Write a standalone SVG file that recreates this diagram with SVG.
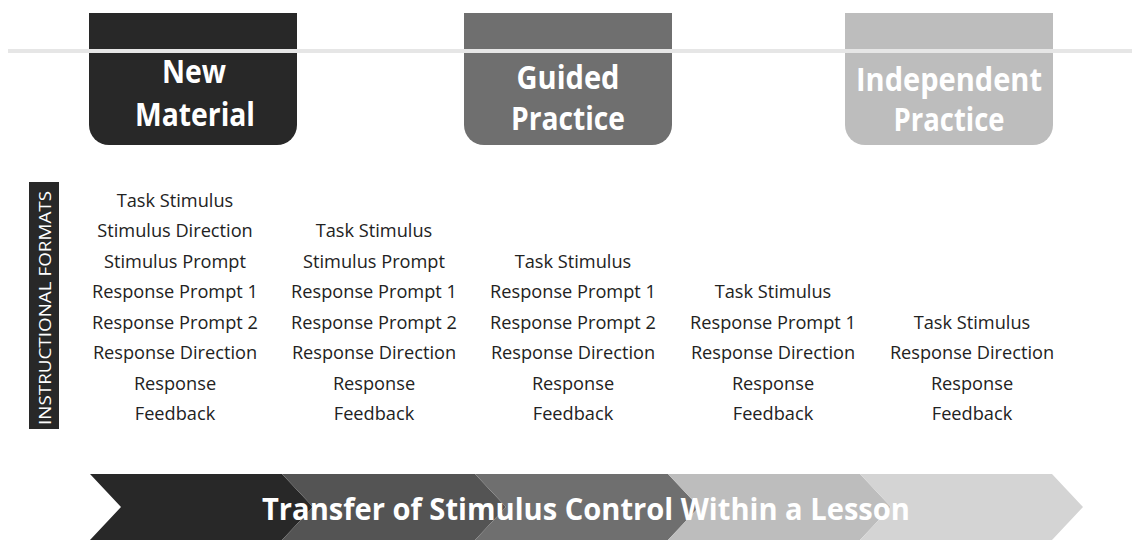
<svg xmlns="http://www.w3.org/2000/svg" width="1132" height="540" viewBox="0 0 1132 540">
  <style>
    .hdr { font-family: "Open Sans", "Liberation Sans", sans-serif; font-weight: 700; font-size: 32px; fill: #ffffff; text-anchor: middle; }
    .item { font-family: "Open Sans", "Liberation Sans", sans-serif; font-size: 18.2px; fill: #222222; text-anchor: middle; }
    .side { font-family: "Open Sans", "Liberation Sans", sans-serif; font-size: 17px; fill: #ffffff; text-anchor: middle; }
    .band { font-family: "Open Sans", "Liberation Sans", sans-serif; font-weight: 700; font-size: 30.5px; fill: #ffffff; text-anchor: middle; }
  </style>

  <rect width="1132" height="540" fill="#ffffff"/>

  <!-- phase tabs -->
  <g id="tab-new-material">
    <path d="M89 13 H297 V125 A20 20 0 0 1 277 145 H109 A20 20 0 0 1 89 125 Z" fill="#282828"/>
  </g>
  <g id="tab-guided-practice">
    <path d="M464 13 H672 V125 A20 20 0 0 1 652 145 H484 A20 20 0 0 1 464 125 Z" fill="#6f6f6f"/>
  </g>
  <g id="tab-independent-practice">
    <path d="M845 13 H1053 V125 A20 20 0 0 1 1033 145 H865 A20 20 0 0 1 845 125 Z" fill="#bdbdbd"/>
  </g>

  <!-- timeline rule across the tabs -->
  <g id="connectors">
    <rect x="8" y="49" width="1124" height="4" fill="#e6e6e6"/>
  </g>

  <g id="tab-labels">
    <text class="hdr" x="194" y="83" textLength="64" lengthAdjust="spacingAndGlyphs">New</text>
    <text class="hdr" x="195" y="126" textLength="120" lengthAdjust="spacingAndGlyphs">Material</text>
    <text class="hdr" x="568" y="89" textLength="103" lengthAdjust="spacingAndGlyphs">Guided</text>
    <text class="hdr" x="568" y="130" textLength="114" lengthAdjust="spacingAndGlyphs">Practice</text>
    <text class="hdr" x="949" y="91" textLength="186" lengthAdjust="spacingAndGlyphs">Independent</text>
    <text class="hdr" x="949" y="131" textLength="111" lengthAdjust="spacingAndGlyphs">Practice</text>
  </g>

  <!-- side label -->
  <g id="side-label">
    <rect x="29" y="182" width="30" height="247" fill="#282828"/>
    <text class="side" transform="translate(51 308) rotate(-90)" x="0" y="0" textLength="234" lengthAdjust="spacingAndGlyphs">INSTRUCTIONAL FORMATS</text>
  </g>

  <!-- instructional format columns -->
  <g id="format-1">
    <text class="item" x="175" y="207">Task Stimulus</text>
    <text class="item" x="175" y="237">Stimulus Direction</text>
    <text class="item" x="175" y="268">Stimulus Prompt</text>
    <text class="item" x="175" y="298">Response Prompt 1</text>
    <text class="item" x="175" y="329">Response Prompt 2</text>
    <text class="item" x="175" y="359">Response Direction</text>
    <text class="item" x="175" y="390">Response</text>
    <text class="item" x="175" y="420">Feedback</text>
  </g>
  <g id="format-2">
    <text class="item" x="374" y="237">Task Stimulus</text>
    <text class="item" x="374" y="268">Stimulus Prompt</text>
    <text class="item" x="374" y="298">Response Prompt 1</text>
    <text class="item" x="374" y="329">Response Prompt 2</text>
    <text class="item" x="374" y="359">Response Direction</text>
    <text class="item" x="374" y="390">Response</text>
    <text class="item" x="374" y="420">Feedback</text>
  </g>
  <g id="format-3">
    <text class="item" x="573" y="268">Task Stimulus</text>
    <text class="item" x="573" y="298">Response Prompt 1</text>
    <text class="item" x="573" y="329">Response Prompt 2</text>
    <text class="item" x="573" y="359">Response Direction</text>
    <text class="item" x="573" y="390">Response</text>
    <text class="item" x="573" y="420">Feedback</text>
  </g>
  <g id="format-4">
    <text class="item" x="773" y="298">Task Stimulus</text>
    <text class="item" x="773" y="329">Response Prompt 1</text>
    <text class="item" x="773" y="359">Response Direction</text>
    <text class="item" x="773" y="390">Response</text>
    <text class="item" x="773" y="420">Feedback</text>
  </g>
  <g id="format-5">
    <text class="item" x="972" y="329">Task Stimulus</text>
    <text class="item" x="972" y="359">Response Direction</text>
    <text class="item" x="972" y="390">Response</text>
    <text class="item" x="972" y="420">Feedback</text>
  </g>

  <!-- chevron band -->
  <g id="transfer-band">
    <polygon points="90,474 282,474 313,507 282,540 90,540 121,507" fill="#282828"/>
    <polygon points="282,474 475,474 506,507 475,540 282,540 313,507" fill="#545454"/>
    <polygon points="475,474 668,474 699,507 668,540 475,540 506,507" fill="#6f6f6f"/>
    <polygon points="668,474 860,474 891,507 860,540 668,540 699,507" fill="#bdbdbd"/>
    <polygon points="860,474 1052,474 1083,507 1052,540 860,540 891,507" fill="#d4d4d4"/>
    <text class="band" x="586" y="520" textLength="648" lengthAdjust="spacingAndGlyphs">Transfer of Stimulus Control Within a Lesson</text>
  </g>
</svg>
